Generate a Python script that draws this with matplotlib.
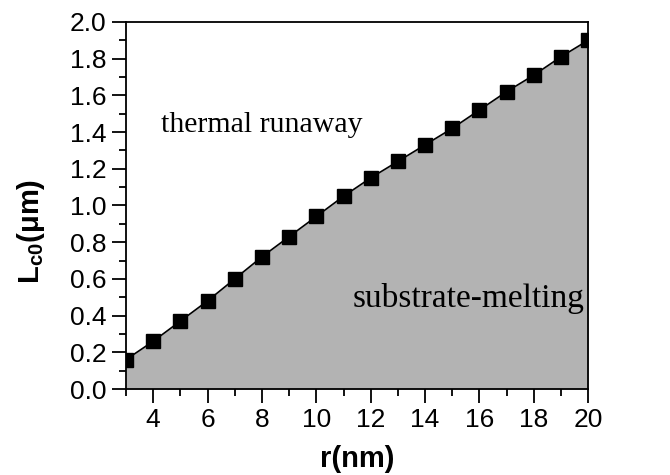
import numpy as np
import matplotlib.pyplot as plt
from matplotlib.ticker import MultipleLocator

# critical length vs radius
r_nm = [3, 4, 5, 6, 7, 8, 9, 10, 11, 12, 13, 14, 15, 16, 17, 18, 19, 20]
L_c0 = [0.16, 0.26, 0.37, 0.48, 0.60, 0.72, 0.83, 0.94, 1.05, 1.15,
        1.24, 1.33, 1.42, 1.52, 1.62, 1.71, 1.81, 1.90]

x_ticks = [4, 6, 8, 10, 12, 14, 16, 18, 20]
y_ticks = [0.0, 0.2, 0.4, 0.6, 0.8, 1.0, 1.2, 1.4, 1.6, 1.8, 2.0]

plt.rcParams['font.family'] = ['Liberation Sans', 'DejaVu Sans']
plt.rcParams['mathtext.fontset'] = 'custom'
plt.rcParams['mathtext.rm'] = 'Liberation Sans'
plt.rcParams['mathtext.bf'] = 'Liberation Sans:bold'

fig = plt.figure(figsize=(6.7, 4.75), dpi=100)
ax = fig.add_axes([0.188, 0.181, 0.69, 0.773])

ax.fill_between(r_nm, L_c0, 0, color='#b3b3b3', lw=0)
ax.plot(r_nm, L_c0, color='black', lw=1.2, marker='s', ms=10,
        markerfacecolor='black', markeredgecolor='black')

ax.set_xlim(3, 20)
ax.set_ylim(0, 2.0)
ax.set_xticks(x_ticks)
ax.set_yticks(y_ticks)
ax.set_yticklabels(['%.1f' % v for v in y_ticks])
ax.xaxis.set_minor_locator(MultipleLocator(1))
ax.yaxis.set_minor_locator(MultipleLocator(0.1))
ax.tick_params(which='major', direction='out', length=10, width=1.3,
               labelsize=19, top=False, right=False, pad=4)
ax.tick_params(which='minor', direction='out', length=5, width=1.3,
               top=False, right=False)
for s in ax.spines.values():
    s.set_linewidth(1.3)

ax.set_xlabel('r(nm)', fontsize=21, fontweight='bold', labelpad=9)
ax.set_ylabel(r'$\mathbf{L_{c0}}$(μm)', fontsize=21, fontweight='bold')
ax.yaxis.set_label_coords(-0.171, 0.428)

ax.text(4.29, 1.40, 'thermal runaway', family='Liberation Serif', fontsize=21.5,
        ha='left', va='baseline')
ax.text(11.35, 0.447, 'substrate-melting', family='Liberation Serif', fontsize=24,
        ha='left', va='baseline')

fig.savefig('out.png', dpi=100)
